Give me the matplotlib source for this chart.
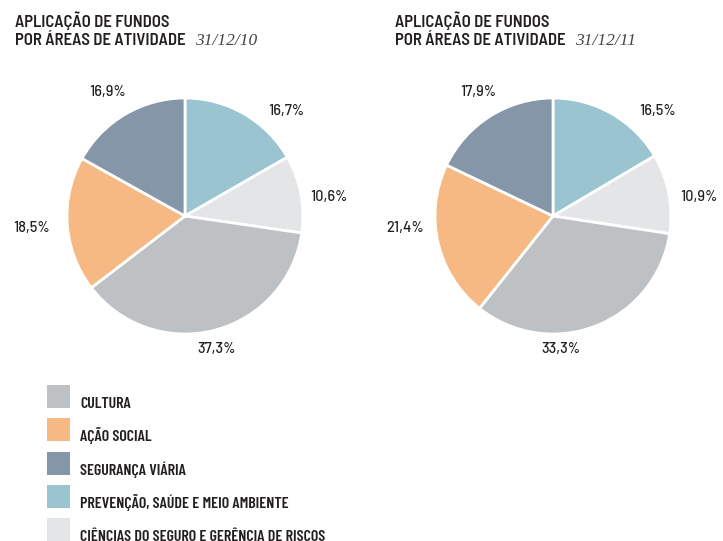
import matplotlib
matplotlib.use("Agg")
import matplotlib.pyplot as plt
from matplotlib.patches import Rectangle

categories = ["PREVENÇÃO, SAÚDE E MEIO AMBIENTE", "CIÊNCIAS DO SEGURO E GERÊNCIA DE RISCOS",
              "CULTURA", "AÇÃO SOCIAL", "SEGURANÇA VIÁRIA"]
values_2010 = [16.7, 10.6, 37.3, 18.5, 16.9]
values_2011 = [16.5, 10.9, 33.3, 21.4, 17.9]
dates = ["31/12/10", "31/12/11"]
legend_order = ["CULTURA", "AÇÃO SOCIAL", "SEGURANÇA VIÁRIA",
                "PREVENÇÃO, SAÚDE E MEIO AMBIENTE", "CIÊNCIAS DO SEGURO E GERÊNCIA DE RISCOS"]

colors = {
    "CULTURA": "#bec1c4",
    "AÇÃO SOCIAL": "#f7b983",
    "SEGURANÇA VIÁRIA": "#8496a8",
    "PREVENÇÃO, SAÚDE E MEIO AMBIENTE": "#9ac4d0",
    "CIÊNCIAS DO SEGURO E GERÊNCIA DE RISCOS": "#e4e5e7",
}

FONT = ["Barlow Condensed", "DejaVu Sans"]
FONT_T = ["Barlow Semi Condensed", "Barlow Condensed", "DejaVu Sans"]
FONT_L = ["Barlow", "DejaVu Sans"]
SERIF = ["Liberation Serif", "DejaVu Serif"]
TXT = "#231f20"

W, H = 723, 541
fig = plt.figure(figsize=(W / 100, H / 100), dpi=100)

# label positions (in units of pie radius) to mirror the reference layout
label_pos = [
    [(0.86, 0.89), (1.22, 0.16), (0.27, -1.13), (-1.30, -0.10), (-0.66, 1.05)],
    [(0.89, 0.89), (1.24, 0.16), (0.07, -1.13), (-1.25, -0.10), (-0.63, 1.05)],
]

R = 118
centers = [(185, 216), (553, 216)]
span = 1.5
for i, (vals, (cx, cy)) in enumerate(zip([values_2010, values_2011], centers)):
    size = 2 * span * R
    ax = fig.add_axes([(cx - span * R) / W, (H - cy - span * R) / H, size / W, size / H])
    ax.pie(vals, colors=[colors[c] for c in categories], startangle=90, counterclock=False,
           radius=1, wedgeprops=dict(edgecolor="white", linewidth=2.0))
    ax.set_xlim(-span, span)
    ax.set_ylim(-span, span)
    ax.set_aspect("equal")
    ax.axis("off")
    for v, (lx, ly) in zip(vals, label_pos[i]):
        ax.text(lx, ly, f"{v:.1f}".replace(".", ",") + "%", ha="center", va="center",
                fontsize=10.5, family=FONT_L, color=TXT, fontweight="medium")

# titles
title_x = [15, 395]
for x0, d in zip(title_x, dates):
    fig.text(x0 / W, 1 - 27 / H, "APLICAÇÃO DE FUNDOS", family=FONT_T, fontsize=12,
             color=TXT, va="baseline", ha="left", fontweight="semibold")
    t2 = fig.text(x0 / W, 1 - 45 / H, "POR ÁREAS DE ATIVIDADE", family=FONT_T, fontsize=12,
                  color=TXT, va="baseline", ha="left", fontweight="semibold")
    fig.canvas.draw()
    bb = t2.get_window_extent()
    fig.text((bb.x1 + 9) / W, 1 - 45 / H, d, family=SERIF, style="italic",
             fontsize=12.5, color="#444444", va="baseline", ha="left")

# legend
for k, cat in enumerate(legend_order):
    top = 385 + k * 33.3
    fig.patches.append(Rectangle((47 / W, 1 - (top + 23) / H), 23 / W, 23 / H,
                                 transform=fig.transFigure, facecolor=colors[cat],
                                 edgecolor="none"))
    fig.text(80 / W, 1 - (top + 23) / H, cat, family=FONT, fontsize=11.5, color=TXT,
             va="baseline", ha="left", fontweight="semibold")

fig.savefig("out.png", dpi=100)
